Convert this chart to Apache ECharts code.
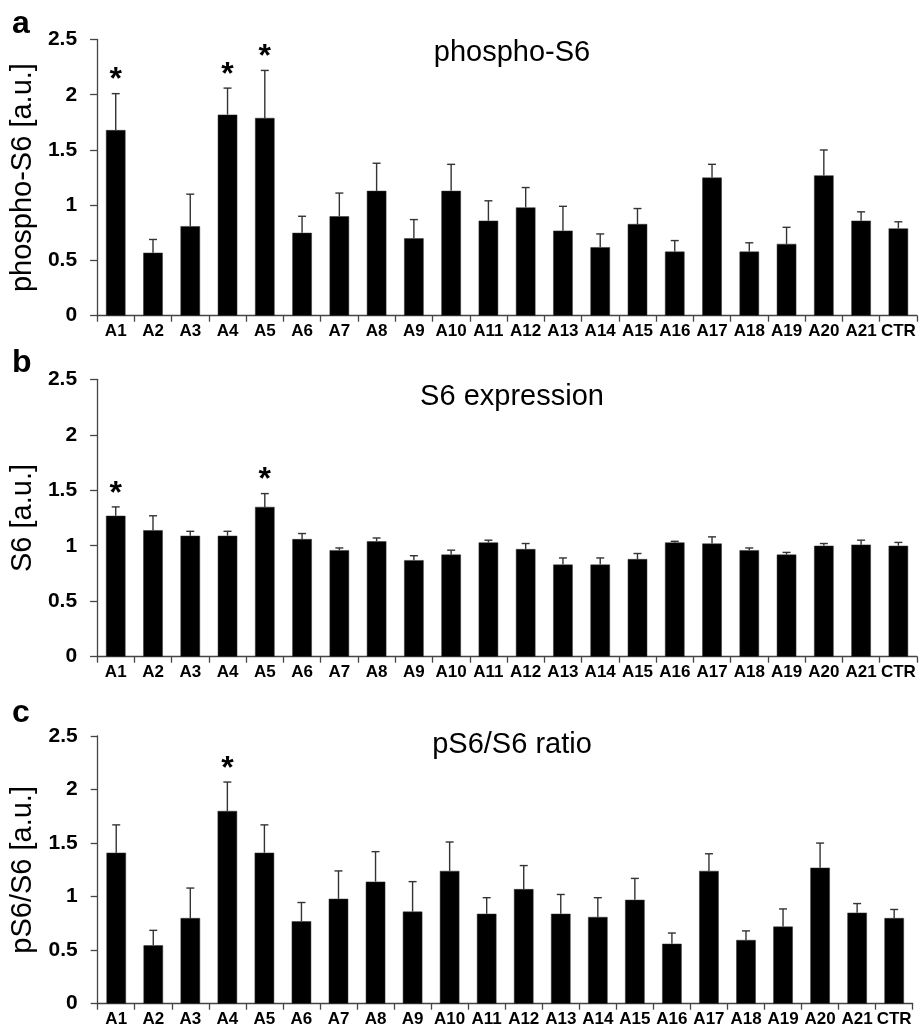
<!DOCTYPE html>
<html>
<head>
<meta charset="utf-8">
<script src="https://cdn.jsdelivr.net/npm/echarts@6/dist/echarts.min.js"></script>
<style>
html,body{margin:0;padding:0;background:#fff;}
#chart{width:919px;height:1033px;}
</style>
</head>
<body>
<div id="chart"></div>
<script>
const categories = ['A1','A2','A3','A4','A5','A6','A7','A8','A9','A10','A11','A12','A13','A14','A15','A16','A17','A18','A19','A20','A21','CTR'];
const yTicks = [0, 0.5, 1, 1.5, 2, 2.5];

const pS6Mean = [1.68,0.57,0.81,1.82,1.79,0.75,0.90,1.13,0.70,1.13,0.86,0.98,0.77,0.62,0.83,0.58,1.25,0.58,0.65,1.27,0.86,0.79];
const pS6Err  = [0.33,0.12,0.29,0.24,0.43,0.15,0.21,0.25,0.17,0.24,0.18,0.18,0.22,0.12,0.14,0.10,0.12,0.08,0.15,0.23,0.08,0.06];
const pS6Stars = ['A1','A4','A5'];

const s6Mean = [1.27,1.14,1.09,1.09,1.35,1.06,0.96,1.04,0.87,0.92,1.03,0.97,0.83,0.83,0.88,1.03,1.02,0.96,0.92,1.00,1.01,1.00];
const s6Err  = [0.08,0.13,0.04,0.04,0.12,0.05,0.02,0.03,0.04,0.04,0.02,0.05,0.06,0.06,0.05,0.01,0.06,0.02,0.02,0.02,0.04,0.03];
const s6Stars = ['A1','A5'];

const ratioMean = [1.41,0.545,0.80,1.80,1.41,0.77,0.98,1.14,0.86,1.24,0.84,1.07,0.84,0.81,0.97,0.56,1.24,0.595,0.72,1.27,0.85,0.80];
const ratioErr  = [0.26,0.14,0.28,0.27,0.26,0.175,0.26,0.28,0.28,0.27,0.15,0.22,0.18,0.18,0.20,0.10,0.16,0.085,0.165,0.23,0.085,0.08];
const ratioStars = ['A4'];

const panelLetters = ['a','b','c'];
const panelTitles = ['phospho-S6','S6 expression','pS6/S6 ratio'];
const axisNames = ['phospho-S6 [a.u.]','S6 [a.u.]','pS6/S6 [a.u.]'];

const FONT = 'Liberation Sans';
const AXIS_COLOR = '#444';

const grids = [
  {left: 95, top: 39.5, width: 822, height: 276.2},
  {left: 96, top: 379.3, width: 821, height: 277.4},
  {left: 97.7, top: 736, width: 815, height: 267.7}
];
const panels = [
  {mean: pS6Mean, err: pS6Err, stars: pS6Stars},
  {mean: s6Mean, err: s6Err, stars: s6Stars},
  {mean: ratioMean, err: ratioErr, stars: ratioStars}
];

function renderErr(params, api) {
  const i = api.value(0), m = api.value(1), e = api.value(2), star = api.value(3);
  const base = api.coord([i, m]);
  const top = api.coord([i, m + e]);
  const st = {stroke: '#333', lineWidth: 1.4};
  const children = [
    {type: 'line', shape: {x1: base[0], y1: base[1], x2: top[0], y2: top[1]}, style: st},
    {type: 'line', shape: {x1: top[0] - 4, y1: top[1], x2: top[0] + 4, y2: top[1]}, style: st}
  ];
  if (star) {
    children.push({type: 'text', x: top[0], y: top[1] - 13,
      style: {text: '*', fill: '#000', font: 'bold 32px "' + FONT + '"', align: 'center', verticalAlign: 'middle'}});
  }
  return {type: 'group', children: children};
}

const option = {
  animation: false,
  backgroundColor: '#fff',
  grid: grids,
  xAxis: grids.map((g, k) => ({
    type: 'category', gridIndex: k, data: categories, boundaryGap: true,
    axisLine: {lineStyle: {color: AXIS_COLOR, width: 1.3}},
    axisTick: {show: true, length: 6, interval: 0, lineStyle: {color: AXIS_COLOR, width: 1.3}},
    axisLabel: {interval: 0, margin: 7, color: '#000', fontFamily: FONT, fontWeight: 'bold', fontSize: 17},
    splitLine: {show: false}
  })),
  yAxis: grids.map((g, k) => ({
    type: 'value', gridIndex: k, min: 0, max: 2.5, interval: 0.5,
    name: axisNames[k], nameLocation: 'middle', nameGap: 58,
    nameTextStyle: {color: '#000', fontFamily: FONT, fontSize: 29},
    axisLine: {show: true, lineStyle: {color: AXIS_COLOR, width: 1.3}},
    axisTick: {show: true, length: 7, lineStyle: {color: AXIS_COLOR, width: 1.3}},
    axisLabel: {margin: 20, color: '#000', fontFamily: FONT, fontWeight: 'bold', fontSize: 21,
      formatter: v => String(v)},
    splitLine: {show: false}
  })),
  series: [],
  graphic: []
};

panels.forEach((p, k) => {
  option.series.push({
    type: 'bar', xAxisIndex: k, yAxisIndex: k, data: p.mean, barWidth: 19.5,
    itemStyle: {color: '#000', borderColor: '#333', borderWidth: 0.5}
  });
  option.series.push({
    type: 'custom', xAxisIndex: k, yAxisIndex: k, renderItem: renderErr, z: 5,
    data: categories.map((c, i) => [i, p.mean[i], p.err[i], p.stars.includes(c) ? 1 : 0])
  });
});

const titleY = [53, 397, 745];
const letterY = [24, 363, 713];
titleY.forEach((y, k) => {
  option.graphic.push({type: 'text', x: 512, y: y,
    style: {text: panelTitles[k], fill: '#000', font: '29px "' + FONT + '"', align: 'center', verticalAlign: 'middle'}});
  option.graphic.push({type: 'text', x: 12, y: letterY[k],
    style: {text: panelLetters[k], fill: '#000', font: 'bold 32px "' + FONT + '"', align: 'left', verticalAlign: 'middle'}});
});

const chart = echarts.init(document.getElementById('chart'), null, {renderer: 'canvas'});
chart.setOption(option);
</script>
</body>
</html>
